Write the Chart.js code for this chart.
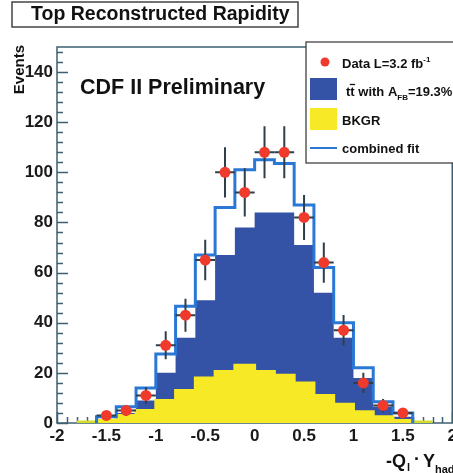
<!DOCTYPE html>
<html>
<head>
<meta charset="utf-8">
<script src="https://cdn.jsdelivr.net/npm/chart.js@4.4.0/dist/chart.umd.min.js"></script>
<style>
  html, body { margin: 0; padding: 0; background: #fff; overflow: hidden; }
  #wrap { width: 460px; height: 473px; position: relative; }
</style>
</head>
<body>
<div id="wrap"><canvas id="chart"></canvas></div>
<script>
// bins of 0.2 in -Q_l * Y_had (outer two bins are empty)
const binCenters = [-1.7, -1.5, -1.3, -1.1, -0.9, -0.7, -0.5, -0.3, -0.1, 0.1, 0.3, 0.5, 0.7, 0.9, 1.1, 1.3, 1.5, 1.7];
const binWidth = 0.2;
const dataCounts = [null, 3, 5, 11, 31, 43, 65, 100, 92, 108, 108, 82, 64, 37, 16, 7, 4, null];
const dataErrors = [null, 1.7, 2.2, 3.3, 5.6, 6.6, 8.1, 10, 9.6, 10.4, 10.4, 9, 8, 6.1, 4, 2.6, 2, null];
const ttbarCounts = [0, 0.5, 1, 4, 11, 21, 31, 46.5, 55, 63.5, 65, 55, 41, 26.5, 13.5, 4, 1.5, 0];
const bkgCounts = [0, 1, 3, 5, 9, 13, 18, 20.5, 23, 20.5, 19, 16, 11, 7.5, 4.5, 2.5, 1, 0];
const fitCounts = [0, 2.5, 6.5, 14, 27.5, 46.6, 67, 86, 101, 105, 103.5, 87, 62, 40, 22, 8.5, 4, 0];
const xTicks = [-2, -1.5, -1, -0.5, 0, 0.5, 1, 1.5, 2];
const yTicks = [0, 20, 40, 60, 80, 100, 120, 140];

const FONT = "'Liberation Sans', Arial, sans-serif";
const AXIS_COLOR = '#3d5f73';
const BLUE_FILL = '#3452a6';
const YELLOW = '#f7e926';
const FIT_BLUE = '#2a78d6';
const RED = '#ef3a2c';

Chart.defaults.font.family = FONT;

// histogram -> points at left bin edges, plus closing right edge
function toSteps(values) {
  const pts = binCenters.map((c, i) => ({ x: c - binWidth / 2, y: values[i] }));
  const last = binCenters.length - 1;
  pts.push({ x: binCenters[last] + binWidth / 2, y: 0 });
  return pts;
}

// fit outline only spans the filled bins
const fitSteps = toSteps(fitCounts).slice(0, -1);
fitSteps[0].x = fitSteps[1].x;

const dataPoints = binCenters
  .map((c, i) => ({ x: c, y: dataCounts[i], err: dataErrors[i] }))
  .filter(p => p.y !== null);

const errorBars = {
  id: 'errorBars',
  beforeDatasetDraw(chart, args) {
    if (args.index !== 0) return;
    const { ctx, scales: { x, y } } = chart;
    ctx.save();
    ctx.strokeStyle = '#2f3f4a';
    ctx.lineWidth = 2;
    dataPoints.forEach(p => {
      const px = x.getPixelForValue(p.x);
      const py = y.getPixelForValue(p.y);
      ctx.beginPath();
      ctx.moveTo(px, y.getPixelForValue(p.y - p.err));
      ctx.lineTo(px, y.getPixelForValue(p.y + p.err));
      ctx.moveTo(x.getPixelForValue(p.x - binWidth / 2), py);
      ctx.lineTo(x.getPixelForValue(p.x + binWidth / 2), py);
      ctx.stroke();
    });
    ctx.restore();
  }
};

const frame = {
  id: 'frame',
  beforeDatasetsDraw(chart) {
    const { ctx, chartArea: a, scales: { x, y } } = chart;
    ctx.save();
    ctx.strokeStyle = AXIS_COLOR;
    ctx.lineWidth = 1.5;
    ctx.strokeRect(a.left, a.top, a.right - a.left, a.bottom - a.top);
    ctx.beginPath();
    for (let v = 0; v < y.max; v += 4) {
      const py = Math.round(y.getPixelForValue(v)) + 0.5;
      const len = v % 20 === 0 ? 11 : 6;
      ctx.moveTo(a.left, py);
      ctx.lineTo(a.left + len, py);
    }
    for (let k = -20; k <= 20; k++) {
      const px = Math.round(x.getPixelForValue(k / 10)) + 0.5;
      const len = k % 5 === 0 ? 11 : 6;
      ctx.moveTo(px, a.bottom);
      ctx.lineTo(px, a.bottom - len);
    }
    ctx.stroke();
    ctx.restore();
  }
};

const annotations = {
  id: 'annotations',
  afterDraw(chart) {
    const { ctx } = chart;
    ctx.save();
    ctx.textBaseline = 'alphabetic';
    ctx.textAlign = 'left';

    // title box
    ctx.fillStyle = '#fff';
    ctx.fillRect(12, 2, 286, 25);
    ctx.strokeStyle = '#444';
    ctx.lineWidth = 1.5;
    ctx.strokeRect(12, 2, 286, 25);
    ctx.fillStyle = '#111';
    ctx.font = 'bold 19.5px ' + FONT;
    ctx.fillText('Top Reconstructed Rapidity', 31, 20);

    // CDF label
    ctx.font = 'bold 21.5px ' + FONT;
    ctx.fillText('CDF II Preliminary', 80, 94);

    // y title
    ctx.save();
    ctx.translate(24, 45);
    ctx.rotate(-Math.PI / 2);
    ctx.textAlign = 'right';
    ctx.font = 'bold 15px ' + FONT;
    ctx.fillText('Events', 0, 0);
    ctx.restore();

    // x title
    let cx = 386;
    ctx.font = 'bold 18px ' + FONT;
    ctx.fillText('-Q', cx, 467); cx += ctx.measureText('-Q').width + 1;
    ctx.font = 'bold 11px ' + FONT;
    ctx.fillText('l', cx, 471); cx += 7;
    ctx.font = 'bold 18px ' + FONT;
    ctx.fillText('\u00b7', cx, 465); cx += 9;
    ctx.fillText('Y', cx, 467); cx += ctx.measureText('Y').width;
    ctx.font = 'bold 11px ' + FONT;
    ctx.fillText('had', cx, 473);

    // legend
    ctx.fillStyle = '#fff';
    ctx.fillRect(306, 42, 160, 121);
    ctx.strokeStyle = '#333';
    ctx.lineWidth = 1.2;
    ctx.strokeRect(306, 42, 160, 121);

    ctx.fillStyle = RED;
    ctx.beginPath();
    ctx.arc(325, 62, 4.5, 0, Math.PI * 2);
    ctx.fill();
    ctx.fillStyle = BLUE_FILL;
    ctx.fillRect(310, 78, 27, 22);
    ctx.fillStyle = YELLOW;
    ctx.fillRect(310, 108, 27, 22);
    ctx.strokeStyle = FIT_BLUE;
    ctx.lineWidth = 2;
    ctx.beginPath();
    ctx.moveTo(310, 148);
    ctx.lineTo(337, 148);
    ctx.stroke();

    ctx.fillStyle = '#111';
    ctx.font = 'bold 13px ' + FONT;
    let lx = 342;
    ctx.fillText('Data L=3.2 fb', lx, 68);
    lx += ctx.measureText('Data L=3.2 fb').width;
    ctx.font = 'bold 8px ' + FONT;
    ctx.fillText('-1', lx, 62);

    ctx.font = 'bold 13px ' + FONT;
    lx = 346;
    ctx.fillText('t', lx, 96);
    lx += ctx.measureText('t').width;
    const tW = ctx.measureText('t').width;
    ctx.fillText('t', lx, 96);
    ctx.strokeStyle = '#111';
    ctx.lineWidth = 1.3;
    ctx.beginPath();
    ctx.moveTo(lx - 0.5, 84.5);
    ctx.lineTo(lx + tW + 0.5, 84.5);
    ctx.stroke();
    lx += tW;
    ctx.fillText(' with A', lx, 96);
    lx += ctx.measureText(' with A').width;
    ctx.font = 'bold 8px ' + FONT;
    ctx.fillText('FB', lx, 100);
    lx += ctx.measureText('FB').width;
    ctx.font = 'bold 13px ' + FONT;
    ctx.fillText('=19.3%', lx, 96);

    ctx.fillText('BKGR', 342, 125);
    ctx.fillText('combined fit', 342, 153);
    ctx.restore();
  }
};

const ctx = document.getElementById('chart').getContext('2d');
new Chart(ctx, {
  type: 'line',
  data: {
    datasets: [
      {
        label: 'Data',
        type: 'scatter',
        data: dataPoints,
        stack: 'data',
        pointRadius: 5.5,
        pointBackgroundColor: RED,
        pointBorderWidth: 0,
        showLine: false
      },
      {
        label: 'combined fit',
        data: fitSteps,
        stack: 'fit',
        stepped: 'before',
        borderColor: FIT_BLUE,
        borderWidth: 3,
        pointRadius: 0,
        fill: false
      },
      {
        label: 'BKGR',
        data: toSteps(bkgCounts),
        stack: 'hist',
        stepped: 'before',
        borderColor: YELLOW,
        borderWidth: 3,
        backgroundColor: YELLOW,
        pointRadius: 0,
        fill: 'origin',
        segment: {
          borderColor: s => (s.p0.parsed.y === 0 ? '#d4dc2c' : undefined),
          borderWidth: s => (s.p0.parsed.y === 0 ? 5 : undefined)
        }
      },
      {
        label: 'ttbar',
        data: toSteps(ttbarCounts),
        stack: 'hist',
        stepped: 'before',
        borderColor: BLUE_FILL,
        borderWidth: 0,
        backgroundColor: BLUE_FILL,
        pointRadius: 0,
        fill: 'origin'
      }
    ]
  },
  options: {
    responsive: true,
    maintainAspectRatio: false,
    animation: false,
    layout: { padding: { top: 47, right: 5, left: 0, bottom: 0 } },
    plugins: {
      legend: { display: false },
      tooltip: { enabled: false }
    },
    scales: {
      x: {
        type: 'linear',
        min: -2,
        max: 2,
        grid: { display: false, drawTicks: false },
        border: { display: false },
        afterBuildTicks: s => { s.ticks = xTicks.map(v => ({ value: v })); },
        afterFit: s => { s.height = 50; },
        ticks: {
          padding: 3,
          maxRotation: 0,
          autoSkip: false,
          color: '#1a1a1a',
          font: { size: 17, weight: 'bold' },
          callback: v => String(v)
        }
      },
      y: {
        type: 'linear',
        min: 0,
        max: 150,
        stacked: true,
        grid: { display: false, drawTicks: false },
        border: { display: false },
        afterBuildTicks: s => { s.ticks = yTicks.map(v => ({ value: v })); },
        afterFit: s => { s.width = 57; },
        ticks: {
          padding: 4,
          color: '#1a1a1a',
          font: { size: 17, weight: 'bold' },
          callback: v => String(v)
        }
      }
    }
  },
  plugins: [frame, errorBars, annotations]
});
</script>
</body>
</html>
